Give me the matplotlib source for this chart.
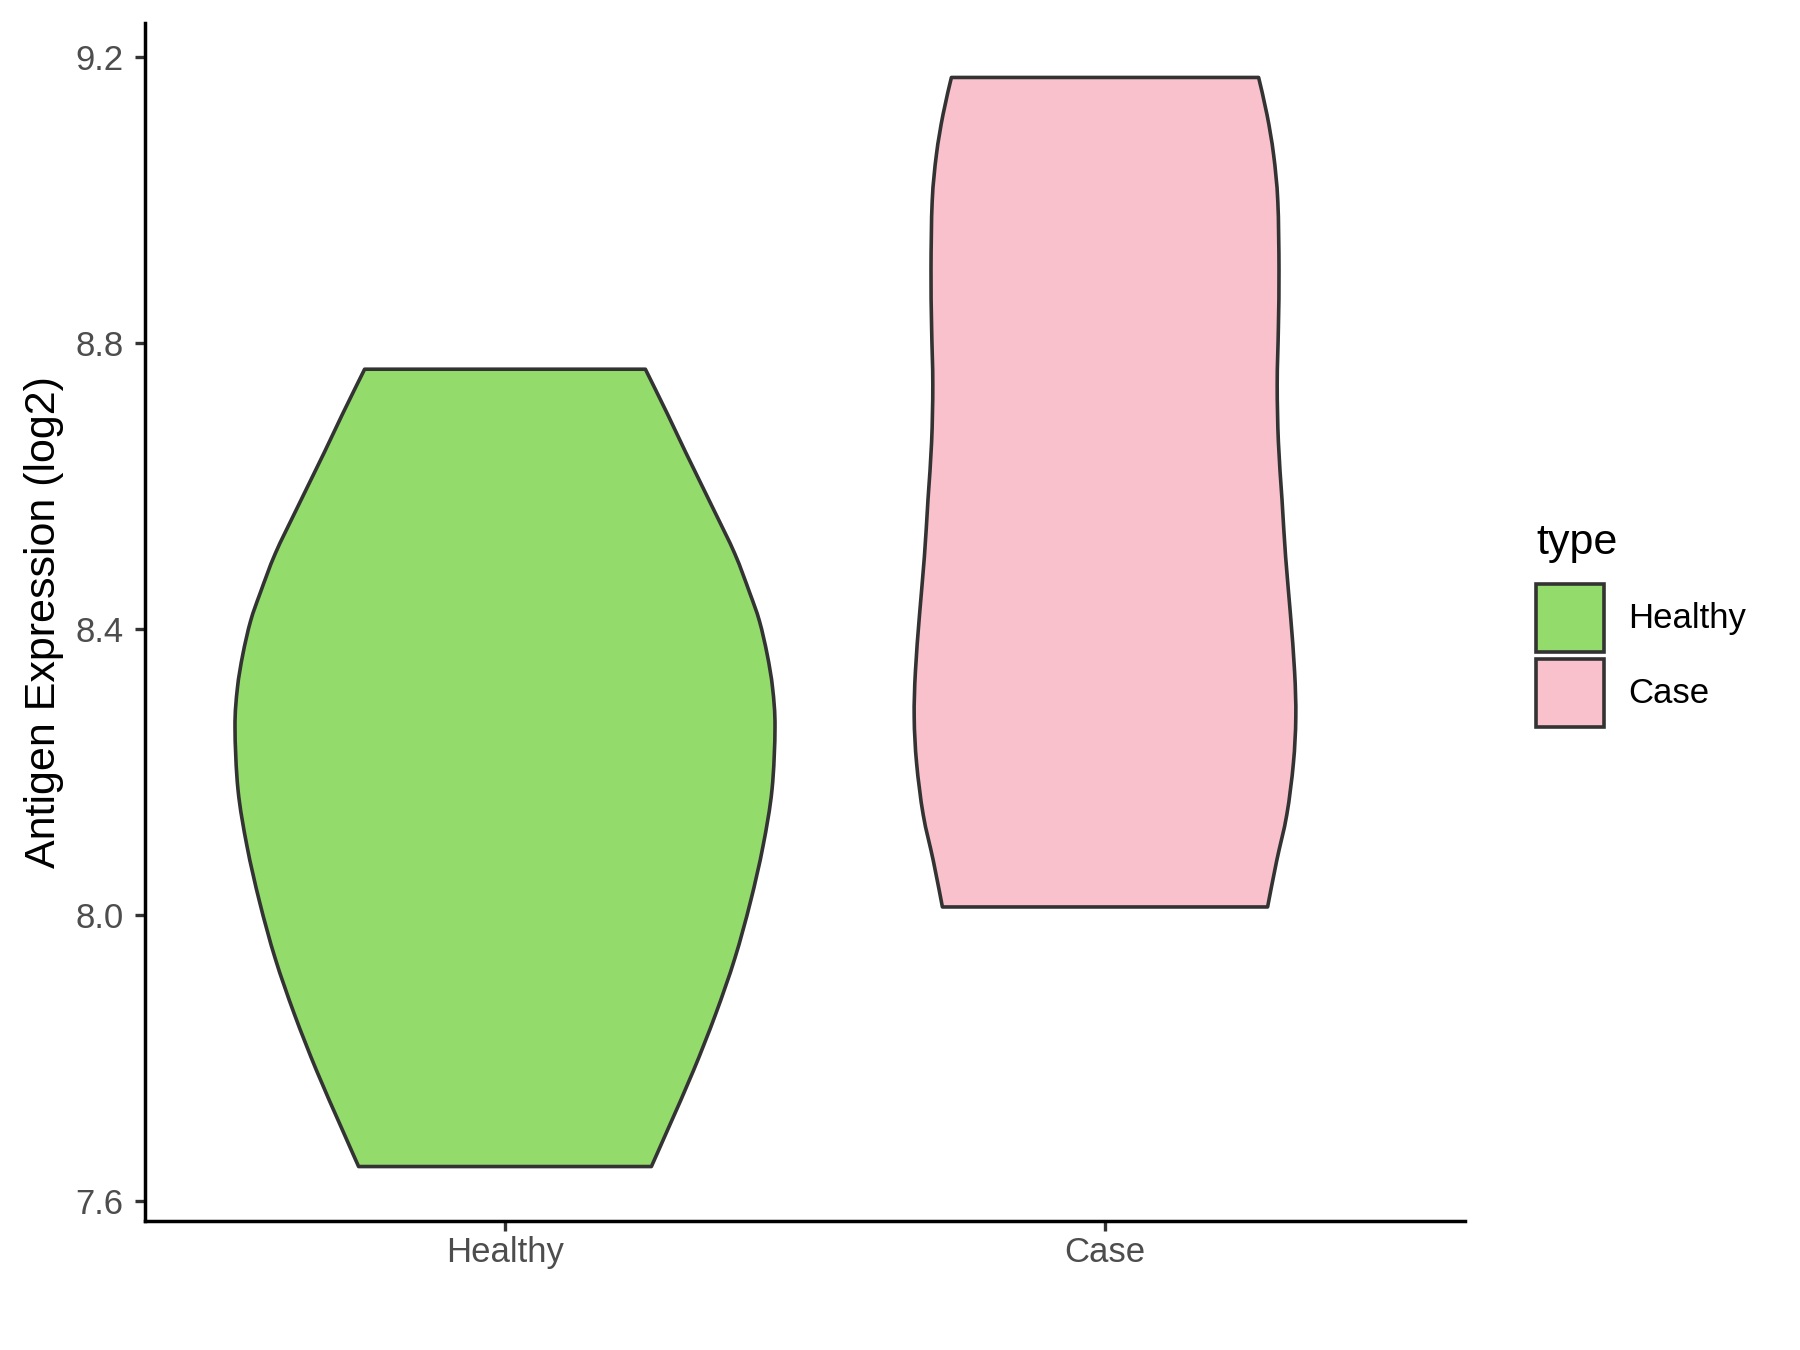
import matplotlib
matplotlib.use("Agg")
import numpy as np
import matplotlib.pyplot as plt
from matplotlib.patches import Patch, PathPatch
from matplotlib.path import Path

plt.rcParams['font.family'] = ['Liberation Sans', 'DejaVu Sans']

groups = ['Healthy', 'Case']
fills = ['#93DB6B', '#F8C1CB']

# violin outlines: value (log2) and half-width in category units
healthy_y = [8.763, 8.700, 8.647, 8.568, 8.505, 8.450, 8.411, 8.364, 8.317, 8.262,
             8.175, 8.096, 8.018, 7.939, 7.861, 7.782, 7.703, 7.648]
healthy_w = [0.234, 0.271, 0.301, 0.347, 0.383, 0.408, 0.424, 0.437, 0.446, 0.450,
             0.445, 0.430, 0.409, 0.383, 0.351, 0.314, 0.273, 0.244]
case_y = [9.171, 9.119, 9.063, 8.998, 8.902, 8.822, 8.742, 8.661, 8.581, 8.501,
          8.421, 8.340, 8.276, 8.212, 8.140, 8.075, 8.011]
case_w = [0.256, 0.270, 0.281, 0.288, 0.290, 0.289, 0.287, 0.289, 0.295, 0.301,
          0.309, 0.316, 0.318, 0.314, 0.303, 0.286, 0.271]

yticks = [7.6, 8.0, 8.4, 8.8, 9.2]


def smooth_side(pts):
    # catmull-rom through the read points, as cubic bezier pieces
    verts = []
    n = len(pts)
    for i in range(n - 1):
        p0 = pts[i - 1] if i > 0 else pts[i]
        p1, p2 = pts[i], pts[i + 1]
        p3 = pts[i + 2] if i + 2 < n else pts[i + 1]
        verts += [p1 + (p2 - p0) / 6, p2 - (p3 - p1) / 6, p2]
    return verts


def violin_path(center, ys, ws):
    ys = np.array(ys)
    ws = np.array(ws)
    right = [np.array([center + w, y]) for y, w in zip(ys, ws)]
    left = [np.array([center - w, y]) for y, w in zip(ys, ws)][::-1]
    verts = [left[-1], right[0]]
    codes = [Path.MOVETO, Path.LINETO]
    seg = smooth_side(right)
    verts += seg
    codes += [Path.CURVE4] * len(seg)
    verts.append(left[0])
    codes.append(Path.LINETO)
    seg = smooth_side(left)
    verts += seg
    codes += [Path.CURVE4] * len(seg)
    verts.append(left[-1])
    codes.append(Path.CLOSEPOLY)
    return Path(np.array(verts), codes)


fig = plt.figure(figsize=(18, 13.5), dpi=100)
ax = fig.add_axes([145 / 1800, 1 - 1221 / 1350, 1320 / 1800, 1198 / 1350])

outlines = [(healthy_y, healthy_w), (case_y, case_w)]
for i, (ys, ws) in enumerate(outlines):
    ax.add_patch(PathPatch(violin_path(i, ys, ws), facecolor=fills[i],
                           edgecolor='#333333', linewidth=2.6, joinstyle='round'))

# ggplot style 5% expansion on the data range
lo = min(min(healthy_y), min(case_y))
hi = max(max(healthy_y), max(case_y))
pad = 0.05 * (hi - lo)
ax.set_ylim(lo - pad, hi + pad)
ax.set_xlim(-0.6, len(groups) - 0.4)

ax.set_xticks(range(len(groups)))
ax.set_xticklabels(groups)
ax.set_yticks(yticks)
ax.set_yticklabels([f'{v:.1f}' for v in yticks])

for side in ['top', 'right']:
    ax.spines[side].set_visible(False)
for side in ['left', 'bottom']:
    ax.spines[side].set_linewidth(2.5)
    ax.spines[side].set_color('black')

ax.tick_params(axis='both', colors='#333333', width=2.4, length=7.5,
               labelsize=25, labelcolor='#4D4D4D')
ax.tick_params(axis='x', pad=3)
ax.tick_params(axis='y', pad=8)

ax.set_ylabel('Antigen Expression (log2)', fontsize=31, color='black')
ax.yaxis.set_label_coords(-0.0614, 0.5)

handles = [Patch(facecolor=fills[i], edgecolor='#333333', linewidth=2.6, label=g)
           for i, g in enumerate(groups)]
leg = fig.legend(handles=handles, title='type', loc='upper left',
                 bbox_to_anchor=(1536 / 1800, 1 - 523 / 1350),
                 frameon=False, fontsize=25, title_fontsize=31,
                 handlelength=1.96, handleheight=2.64, labelspacing=0.2,
                 handletextpad=0.7, borderpad=0, borderaxespad=0, alignment='left')
leg._legend_box.sep = 15

fig.savefig('out.png', dpi=100, facecolor='white')
